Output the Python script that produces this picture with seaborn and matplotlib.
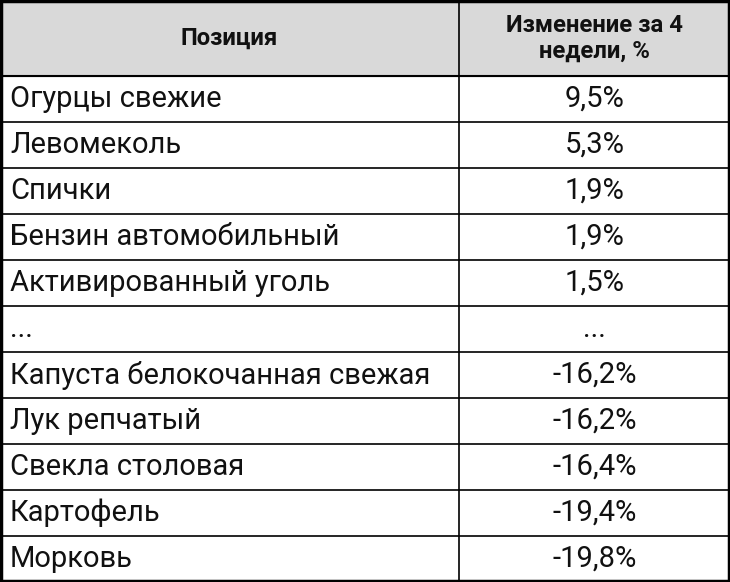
import matplotlib
matplotlib.use("Agg")
import matplotlib.pyplot as plt
import seaborn as sns

sns.set_theme(style="white")
plt.rcParams['font.family'] = ['Roboto', 'DejaVu Sans']

header = ["Позиция", "Изменение за 4\nнедели, %"]
items = ["Огурцы свежие", "Левомеколь", "Спички", "Бензин автомобильный",
         "Активированный уголь", "...", "Капуста белокочанная свежая",
         "Лук репчатый", "Свекла столовая", "Картофель", "Морковь"]
changes = ["9,5%", "5,3%", "1,9%", "1,9%", "1,5%", "...", "-16,2%",
           "-16,2%", "-16,4%", "-19,4%", "-19,8%"]

W, H = 730, 582
fig = plt.figure(figsize=(W/100, H/100), dpi=100)
ax = fig.add_axes([0, 0, 1, 1])
ax.set_xlim(0, W)
ax.set_ylim(H, 0)
ax.axis("off")

hdr_h = 76
row_h = (H - hdr_h) / len(items)
col_x = 459

ax.add_patch(plt.Rectangle((0, 0), W, hdr_h, color="#d9d9d9", zorder=0))
ax.text(col_x/2, hdr_h/2, header[0], ha="center", va="center", fontsize=17.2, fontweight="bold", color="#111")
ax.text((col_x+W)/2, hdr_h/2, header[1], ha="center", va="center", fontsize=17.2, fontweight="bold", color="#111", linespacing=1.15)

for i, (a, b) in enumerate(zip(items, changes)):
    yc = hdr_h + row_h*(i+0.5)
    ax.text(10, yc, a, ha="left", va="center", fontsize=21, color="#111")
    ax.text((col_x+W)/2, yc, b, ha="center", va="center", fontsize=21, color="#111")

for i in range(len(items)+1):
    y = hdr_h + row_h*i
    ax.plot([0, W], [y, y], color="black", lw=1.2 if i else 1.5)
ax.plot([col_x, col_x], [0, H], color="black", lw=1.2)
ax.add_patch(plt.Rectangle((1, 1), W-2, H-2, fill=False, ec="black", lw=2.5))

fig.savefig("out.png", dpi=100)
